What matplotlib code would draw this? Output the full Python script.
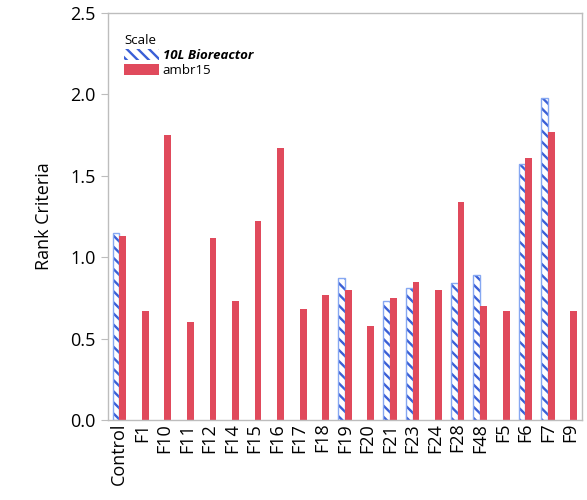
import numpy as np
import matplotlib
matplotlib.use('Agg')
import matplotlib.pyplot as plt

plt.rcParams['font.family'] = ['Open Sans', 'DejaVu Sans']
plt.rcParams['hatch.linewidth'] = 1.7

# data
categories = ['Control', 'F1', 'F10', 'F11', 'F12', 'F14', 'F15', 'F16', 'F17', 'F18',
              'F19', 'F20', 'F21', 'F23', 'F24', 'F28', 'F48', 'F5', 'F6', 'F7', 'F9']
bioreactor = [1.15, None, None, None, None, None, None, None, None, None,
              0.87, None, 0.73, 0.81, None, 0.84, 0.89, None, 1.57, 1.98, None]
ambr15 = [1.13, 0.67, 1.75, 0.60, 1.12, 0.73, 1.22, 1.67, 0.68, 0.77,
          0.80, 0.58, 0.75, 0.85, 0.80, 1.34, 0.70, 0.67, 1.61, 1.77, 0.67]
yticks = [0.0, 0.5, 1.0, 1.5, 2.0, 2.5]

hatch_col = '#3a5fd6'
outline_col = '#86a8f2'
red = '#e04a5c'
spine_col = '#bdbdbd'

fig = plt.figure(figsize=(5.87, 5.0), dpi=100)
ax = fig.add_axes([0.184, 0.16, 0.807, 0.814])

x = np.arange(len(categories))
w = 0.3
bx = np.array([xi for xi, v in zip(x, bioreactor) if v is not None])
bv = [v for v in bioreactor if v is not None]

# hatched fill, then a lighter outline on top
ax.bar(bx - w / 2, bv, width=w, facecolor='white', edgecolor=hatch_col,
       hatch='\\\\\\', linewidth=0, label='10L Bioreactor')
ax.bar(bx - w / 2, bv, width=w, facecolor='none', edgecolor=outline_col,
       linewidth=1.0)
ax.bar(x + w / 2, ambr15, width=w, color=red, label='ambr15')

ax.set_xlim(-0.5, len(categories) - 0.5)
ax.set_ylim(0, 2.5)
ax.set_yticks(yticks)
ax.set_yticklabels([f'{t:.1f}' for t in yticks], fontsize=13)
ax.set_xticks(x)
ax.set_xticklabels(categories, rotation=90, fontsize=13)
ax.tick_params(axis='x', length=0, pad=2)
ax.tick_params(axis='y', length=5, color=spine_col, pad=4)
for s in ax.spines.values():
    s.set_color(spine_col)
    s.set_linewidth(1.0)

ax.set_ylabel('Rank Criteria', fontsize=13, labelpad=12)

leg = ax.legend(loc='upper left', title='Scale', frameon=False, fontsize=9.5,
                title_fontsize=9.5, handlelength=2.6, handleheight=0.9,
                borderaxespad=0.4, labelspacing=0.15, handletextpad=0.3,
                bbox_to_anchor=(0.012, 0.975))
leg._legend_box.align = 'left'
leg.get_texts()[0].set_fontweight('bold')
leg.get_texts()[0].set_fontstyle('italic')

fig.savefig('out.png', dpi=100)
